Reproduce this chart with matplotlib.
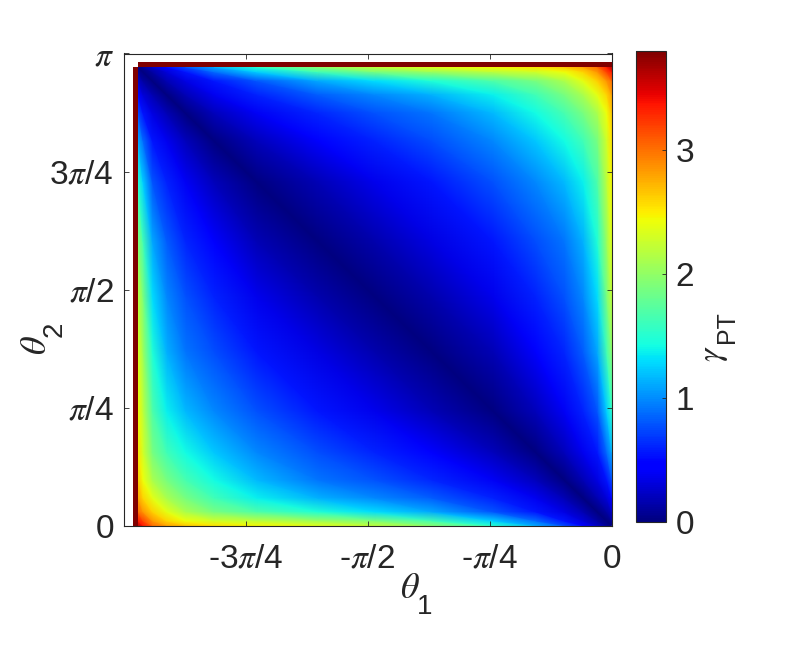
import numpy as np
import matplotlib
matplotlib.use("Agg")
import matplotlib.pyplot as plt
from matplotlib.tri import Triangulation

plt.rcParams['font.family'] = ['Liberation Sans', 'DejaVu Sans']
plt.rcParams['mathtext.fontset'] = 'stix'

W, H = 785, 645
DARK = '#262626'

# grid nodes, as fractions of the drawn field
nodes = [0, .01, .03, .06, .10, .16, .25, .38, .5, .62, .75, .84, .90, .94, .97, .99, 1]
theta1_start = -3.047
theta2_end = 3.05
strip_left = -3.08
strip_top = 3.085
v_max = 3.8

# gamma_PT, one row per node, bottom rows of the field
row0 = [3.6, 3.35, 3.0, 2.8, 2.65, 2.55, 2.45, 2.35, 2.2, 1.95, 1.5, 1.1, .75, .45, .23, .08, 0]
row1 = [3.35, 3.2, 2.85, 2.6, 2.42, 2.3, 2.2, 2.05, 1.9, 1.65, 1.25, .88, .55, .3, .12, 0, .08]
row2 = [3.0, 2.85, 2.62, 2.38, 2.12, 1.88, 1.68, 1.48, 1.3, 1.1, .8, .55, .33, .17, 0, .12, .23]
row3 = [2.8, 2.6, 2.38, 2.12, 1.88, 1.62, 1.37, 1.14, .98, .82, .6, .38, .18, 0, .17, .3, .45]
row4 = [2.65, 2.42, 2.12, 1.88, 1.65, 1.42, 1.17, .92, .78, .62, .4, .2, 0, .18, .33, .55, .75]
row5 = [2.55, 2.3, 1.88, 1.62, 1.42, 1.22, .98, .76, .6, .42, .2, 0, .2, .38, .55, .88, 1.1]
row6 = [2.45, 2.2, 1.68, 1.37, 1.17, .98, .78, .55, .36, .18, 0, .2, .4, .6, .8, 1.25, 1.5]
row7 = [2.35, 2.05, 1.48, 1.14, .92, .76, .55, .33, .16, 0, .18, .42, .62, .82, 1.1, 1.65, 1.95]
row8 = [2.2, 1.9, 1.3, .98, .78, .6, .36, .16, 0, .16, .36, .6, .78, .98, 1.3, 1.9, 2.2]
row9 = [1.95, 1.65, 1.1, .82, .62, .42, .18, 0, .16, .33, .55, .76, .92, 1.14, 1.48, 2.05, 2.35]
row10 = [1.5, 1.25, .8, .6, .4, .2, 0, .18, .36, .55, .78, .98, 1.17, 1.37, 1.68, 2.2, 2.45]
row11 = [1.1, .88, .55, .38, .2, 0, .2, .42, .6, .76, .98, 1.22, 1.42, 1.62, 1.88, 2.3, 2.55]
row12 = [.75, .55, .33, .18, 0, .2, .4, .62, .78, .92, 1.17, 1.42, 1.65, 1.88, 2.12, 2.42, 2.65]
row13 = [.45, .3, .17, 0, .18, .38, .6, .82, .98, 1.14, 1.37, 1.62, 1.88, 2.12, 2.38, 2.6, 2.8]
row14 = [.23, .12, 0, .17, .33, .55, .8, 1.1, 1.3, 1.48, 1.68, 1.88, 2.12, 2.38, 2.62, 2.85, 3.0]
row15 = [.08, 0, .12, .3, .55, .88, 1.25, 1.65, 1.9, 2.05, 2.2, 2.3, 2.42, 2.6, 2.85, 3.2, 3.35]
row16 = [0, .08, .23, .45, .75, 1.1, 1.5, 1.95, 2.2, 2.35, 2.45, 2.55, 2.65, 2.8, 3.0, 3.35, 3.6]

x_ticks = [-3 * np.pi / 4, -np.pi / 2, -np.pi / 4, 0]
x_labels = [r'-3$\pi$/4', r'-$\pi$/2', r'-$\pi$/4', '0']
y_ticks = [0, np.pi / 4, np.pi / 2, 3 * np.pi / 4, np.pi]
y_labels = ['0', r'$\pi$/4', r'$\pi$/2', r'3$\pi$/4', r'$\pi$']
cbar_ticks = [0, 1, 2, 3]

field = np.array([row0, row1, row2, row3, row4, row5, row6, row7, row8, row9,
                  row10, row11, row12, row13, row14, row15, row16])
g = np.array(nodes)
theta1 = theta1_start * (1 - g)
theta2 = theta2_end * g

# triangles cut along the dark diagonal so that it stays a clean valley
n = len(nodes)
X, Y = np.meshgrid(theta1, theta2)
idx = np.arange(n * n).reshape(n, n)
a, b, c, d = idx[:-1, :-1].ravel(), idx[:-1, 1:].ravel(), idx[1:, :-1].ravel(), idx[1:, 1:].ravel()
triangles = np.vstack([np.column_stack([a, b, c]), np.column_stack([b, d, c])])
tri = Triangulation(X.ravel(), Y.ravel(), triangles)

fig = plt.figure(figsize=(W / 100, H / 100), dpi=100)
ax = fig.add_axes([123.5 / W, 1 - 525.5 / H, 488 / W, 472 / H])

norm = plt.Normalize(0, v_max)
m = ax.tripcolor(tri, field.ravel(), shading='gouraud', cmap='jet', norm=norm)
ax.pcolormesh([strip_left, theta1_start], [0, theta2_end], [[v_max]], cmap='jet', norm=norm)
ax.pcolormesh([theta1_start, 0], [theta2_end, strip_top], [[v_max]], cmap='jet', norm=norm)

ax.set_xlim(-np.pi, 0)
ax.set_ylim(0, np.pi)
ax.set_xticks(x_ticks, x_labels)
ax.set_yticks(y_ticks, y_labels)
ax.tick_params(direction='in', length=3.5, width=0.6, color=DARK, labelcolor=DARK,
               labelsize=24, top=True, right=True)
ax.tick_params(axis='x', pad=13)
ax.tick_params(axis='y', pad=7)
for s in ax.spines.values():
    s.set_linewidth(0.8)
    s.set_edgecolor(DARK)
    s.set_zorder(5)

cax = fig.add_axes([636 / W, 1 - 522 / H, 30 / W, 471 / H])
cb = fig.colorbar(m, cax=cax)
cb.set_ticks(cbar_ticks)
cb.ax.tick_params(direction='in', length=3, width=0.6, color=DARK, labelcolor=DARK,
                  labelsize=24, pad=7)
cb.outline.set_linewidth(0.8)
cb.outline.set_edgecolor(DARK)


def px(x, y, s, **kw):
    fig.text(x / W, 1 - y / H, s, color=DARK, ha='center', va='center', **kw)


px(410, 588, r'$\theta$', fontsize=26)
px(425, 607, '1', fontsize=20)
px(36, 345, r'$\theta$', fontsize=26, rotation=90)
px(55, 329, '2', fontsize=20, rotation=90)
px(715, 354, r'$\gamma$', fontsize=24, rotation=90)
px(727, 327, 'PT', fontsize=18, rotation=90)

fig.savefig('out.png', dpi=100)
